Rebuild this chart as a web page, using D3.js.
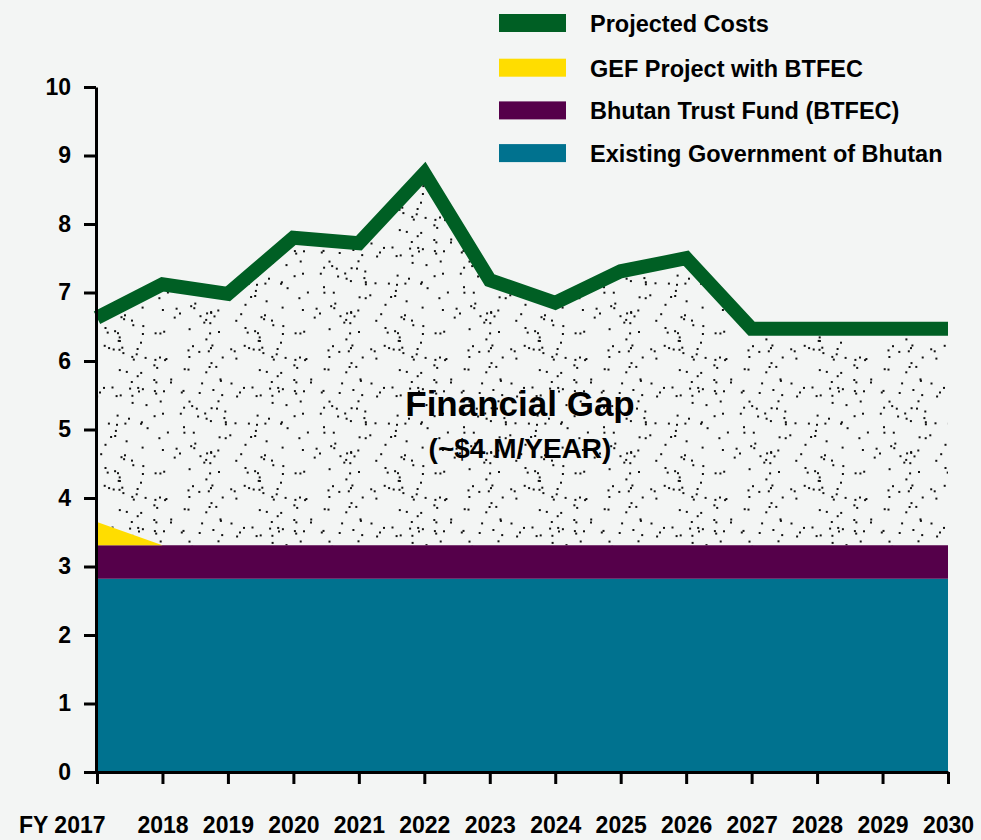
<!DOCTYPE html>
<html>
<head>
<meta charset="utf-8">
<script src="https://cdn.jsdelivr.net/npm/d3@7"></script>
<style>
  html, body { margin: 0; padding: 0; background: #f3f5f4; }
  svg { display: block; font-family: "Liberation Sans", Arial, sans-serif; }
  .axis text { font-size: 23px; font-weight: bold; fill: #000; }
  .axis path, .axis line { stroke: #000; stroke-width: 3; }
  .legend text { font-size: 23.5px; font-weight: bold; fill: #000; }
</style>
</head>
<body>
<svg id="chart" width="981" height="840"></svg>
<script>
// data (US$ millions per year)
const years = [2017, 2018, 2019, 2020, 2021, 2022, 2023, 2024, 2025, 2026, 2027, 2028, 2029, 2030];
const government = [2.82, 2.82, 2.82, 2.82, 2.82, 2.82, 2.82, 2.82, 2.82, 2.82, 2.82, 2.82, 2.82, 2.82];
const trustFund  = [0.49, 0.49, 0.49, 0.49, 0.49, 0.49, 0.49, 0.49, 0.49, 0.49, 0.49, 0.49, 0.49, 0.49];
const gefProject = [0.34, 0, 0, 0, 0, 0, 0, 0, 0, 0, 0, 0, 0, 0];
const projected  = [6.63, 7.12, 6.98, 7.80, 7.72, 8.74, 7.18, 6.85, 7.31, 7.50, 6.47, 6.47, 6.47, 6.47];
const yTicks = [0, 1, 2, 3, 4, 5, 6, 7, 8, 9, 10];

const legendItems = [
  { label: 'Projected Costs', color: '#005f24' },
  { label: 'GEF Project with BTFEC', color: '#ffdd00' },
  { label: 'Bhutan Trust Fund (BTFEC)', color: '#55004a' },
  { label: 'Existing Government of Bhutan', color: '#00728f' }
];

const svg = d3.select('#chart');

const x = d3.scaleLinear().domain([2017, 2030]).range([97, 948]);
const y = d3.scaleLinear().domain([0, 10]).range([772, 87]);

// rows for stacking
const rows = years.map((yr, i) => ({
  year: yr,
  gov: government[i],
  trust: trustFund[i],
  gef: gefProject[i],
  cost: projected[i]
}));
const stack = d3.stack().keys(['gov', 'trust', 'gef'])(rows);
const fills = { gov: '#00728f', trust: '#55004a', gef: '#ffdd00' };

// dotted texture for the gap
const defs = svg.append('defs');
const pat = defs.append('pattern')
  .attr('id', 'dots')
  .attr('patternUnits', 'userSpaceOnUse')
  .attr('width', 140).attr('height', 140);
pat.append('rect').attr('width', 140).attr('height', 140).attr('fill', '#f3f5f4');
let seed = 11;
function rnd() { seed = (seed * 16807) % 2147483647; return seed / 2147483647; }
for (let k = 0; k < 150; k++) {
  pat.append('rect')
    .attr('x', (rnd() * 138).toFixed(1))
    .attr('y', (rnd() * 138).toFixed(1))
    .attr('width', 2).attr('height', 2)
    .attr('fill', '#111');
}

// gap area: top of funding to projected costs
const fundTop = stack[stack.length - 1];
const gapArea = d3.area()
  .x((d, i) => x(years[i]))
  .y0((d, i) => y(fundTop[i][1]))
  .y1((d, i) => y(projected[i]));
svg.append('path')
  .datum(rows)
  .attr('fill', 'url(#dots)')
  .attr('d', gapArea);

// stacked funding
const area = d3.area()
  .x(d => x(d.data.year))
  .y0(d => y(d[0]))
  .y1(d => y(d[1]));
svg.append('g').selectAll('path')
  .data(stack)
  .join('path')
  .attr('fill', d => fills[d.key])
  .attr('d', area);

// projected costs line
const line = d3.line()
  .x((d, i) => x(years[i]))
  .y(d => y(d));
svg.append('path')
  .datum(projected)
  .attr('fill', 'none')
  .attr('stroke', '#005f24')
  .attr('stroke-width', 14)
  .attr('stroke-linejoin', 'miter')
  .attr('d', line);

// axes
const yAxis = d3.axisLeft(y).tickValues(yTicks).tickSize(12).tickSizeOuter(0).tickPadding(13);
svg.append('g').attr('class', 'axis')
  .attr('transform', 'translate(96,0)')
  .call(yAxis);

const xAxis = d3.axisBottom(x).tickValues(years).tickSize(12).tickSizeOuter(0).tickPadding(33)
  .tickFormat(d => d === 2017 ? 'FY 2017' : d);
const gx = svg.append('g').attr('class', 'axis')
  .attr('transform', 'translate(0,772)')
  .call(xAxis);
gx.selectAll('.tick text')
  .filter(d => d === 2017)
  .attr('text-anchor', 'end')
  .attr('dx', 8);

// gap annotation
svg.append('text')
  .attr('x', 520).attr('y', 416)
  .attr('text-anchor', 'middle')
  .style('font-size', '35px').style('font-weight', 'bold')
  .text('Financial Gap');
svg.append('text')
  .attr('x', 520).attr('y', 458)
  .attr('text-anchor', 'middle')
  .style('font-size', '28px').style('font-weight', 'bold')
  .text('(~$4 M/YEAR)');

// legend
const lg = svg.append('g').attr('class', 'legend');
const li = lg.selectAll('g')
  .data(legendItems)
  .join('g')
  .attr('transform', (d, i) => `translate(499,${i === 0 ? 23 : 25 + i * 42.7})`);
li.append('rect')
  .attr('x', 0).attr('y', -9)
  .attr('width', 67).attr('height', 18)
  .attr('fill', d => d.color);
li.append('text')
  .attr('x', 91).attr('y', 9)
  .text(d => d.label);
</script>
</body>
</html>
